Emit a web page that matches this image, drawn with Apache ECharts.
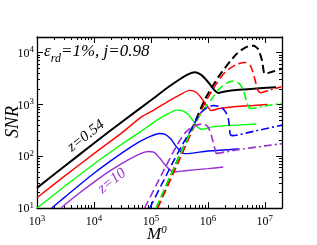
<!DOCTYPE html>
<html>
<head>
<meta charset="utf-8">
<script src="https://cdn.jsdelivr.net/npm/echarts@6/dist/echarts.min.js"></script>
<style>
html,body{margin:0;padding:0;background:#fff;}
#chart{width:317px;height:245px;}
</style>
</head>
<body>
<div id="chart"></div>
<script>
// ---- data (M^0, SNR) ----
const blackSolidM = [1000, 3162, 10000, 31620, 100000, 200000, 316200, 447000, 589000, 741000, 891000, 1120000, 1320000, 1510000, 2000000, 3162000, 7940000, 15800000];
const blackSolidS = [24.5, 66, 178, 468, 1202, 2138, 3020, 3800, 4170, 3800, 3160, 2340, 1860, 1660, 1780, 1905, 2040, 2140];

const redSolidM = [1000, 3162, 10000, 31620, 64570, 100000, 200000, 316200, 479000, 631000, 794000, 1000000, 1150000, 1580000, 3162000, 6310000, 11200000];
const redSolidS = [15.8, 42.7, 112, 288, 550, 724, 1148, 1514, 1862, 1698, 1259, 891, 759, 832, 912, 955, 1000];

const greenSolidM = [1000, 3162, 10000, 31620, 64570, 126000, 200000, 282000, 355000, 447000, 562000, 661000, 794000, 1260000, 3162000, 7080000];
const greenSolidS = [10, 26.9, 70.8, 174, 295, 490, 660, 776, 760, 646, 470, 362, 331, 372, 398, 417];

const blueSolidM = [1820, 3162, 10000, 31620, 63100, 100000, 141000, 178000, 224000, 282000, 355000, 398000, 1000000, 3550000];
const blueSolidS = [10, 16.6, 46.8, 117, 191, 245, 275, 263, 214, 151, 115, 112, 126, 138];

const purpleSolidM = [2630, 5012, 10000, 20000, 39800, 63100, 89100, 112000, 141000, 178000, 224000, 263000, 398000, 1000000, 1860000];
const purpleSolidS = [10, 17.8, 31.6, 53.7, 85.1, 110, 123, 120, 93.3, 67.6, 52.5, 50.1, 52.5, 57.5, 61.7];

const blackDashM = [126000, 316200, 562000, 912000, 1580000, 3162000, 5010000, 6310000, 7590000, 8910000, 10000000, 12600000, 20000000];
const blackDashS = [10, 100, 398, 1318, 3548, 9333, 13180, 13490, 11750, 7079, 3890, 4169, 4898];

const redDashM = [132000, 316200, 562000, 912000, 1410000, 2000000, 3162000, 4470000, 5620000, 6610000, 7590000, 8320000];
const redDashS = [10, 85, 355, 1122, 2512, 4169, 5888, 6457, 5495, 3162, 1862, 1660];
const redTailM = [8320000, 12600000, 19500000];
const redTailS = [1660, 1905, 2188];

const greenDashM = [123000, 316200, 562000, 813000, 1175000, 1580000, 2140000, 2750000, 3550000, 4170000, 4790000, 5250000];
const greenDashS = [10, 100, 380, 759, 1288, 1995, 2570, 2818, 2512, 1905, 1122, 851];
const greenTailM = [5250000, 5750000, 10000000, 20000000];
const greenTailS = [851, 832, 933, 1047];

const blueDashM = [95500, 200000, 355000, 562000, 724000, 1000000, 1260000, 1660000, 2000000, 2290000, 2450000];
const blueDashS = [10, 50.1, 166, 398, 661, 891, 955, 891, 741, 525, 262];
const blueTailM = [2450000, 2690000, 6310000, 20000000];
const blueTailS = [262, 250, 302, 398];

const purpleDashM = [77600, 158000, 282000, 398000, 562000, 794000, 1000000, 1150000, 1320000, 1410000];
const purpleDashS = [10, 46.8, 158, 282, 380, 417, 372, 251, 141, 112];
const purpleTailM = [1410000, 3162000, 10000000, 20000000];
const purpleTailS = [112, 132, 158, 174];

const xMinorTicks = [2000,3000,4000,5000,6000,7000,8000,9000,20000,30000,40000,50000,60000,70000,80000,90000,200000,300000,400000,500000,600000,700000,800000,900000,2000000,3000000,4000000,5000000,6000000,7000000,8000000,9000000];
const yMinorTicks = [20,30,40,50,60,70,80,90,200,300,400,500,600,700,800,900,2000,3000,4000,5000,6000,7000,8000,9000];

const titleText = '{a|\u03b5}{s|rd}{a|=1%, j=0.98}';
const label1 = 'z=0.54';
const label2 = 'z=10';

// ---- chart ----
const X_MIN = 1000, X_MAX = 20000000, Y_MIN = 10, Y_MAX = 20000;
const SERIF = '"Liberation Serif", "DejaVu Serif", serif';
const COL = {black:'#000000', red:'#ff0000', green:'#00ff00', blue:'#0000ff', purple:'#9932cc'};
function pairs(ms, ss){ return ms.map((m,i)=>[m, ss[i]]); }
function line(ms, ss, color, type, width){
  return {type:'line', data:pairs(ms, ss), showSymbol:false, symbol:'none', smooth:0.25,
    lineStyle:{color:color, width:width, type:type}, xAxisIndex:0, yAxisIndex:0, z:3, animation:false};
}
function isPow(v){ const l = Math.log10(v); return Math.abs(l - Math.round(l)) < 0.01; }
const labelFmt = v => isPow(v) ? '{b|10}{e|' + Math.round(Math.log10(v)) + '}' : '';
const rich = {
  b:{fontFamily:SERIF, fontSize:12, color:'#000', lineHeight:14, verticalAlign:'bottom'},
  e:{fontFamily:SERIF, fontSize:9, color:'#000', lineHeight:6, verticalAlign:'top'}
};
const axLine = {show:true, lineStyle:{color:'#000', width:1.3}};
function xAx(pos, showLabel){
  return {type:'log', logBase:10, min:X_MIN, max:X_MAX, position:pos, axisLine:axLine,
    axisTick:{show:true, inside:true, length:6, lineStyle:{color:'#000', width:1}},
    axisLabel:{show:showLabel, formatter:labelFmt, rich:rich, margin:6, showMaxLabel:false},
    splitLine:{show:false}};
}
function yAx(pos, showLabel){
  return {type:'log', logBase:10, min:Y_MIN, max:Y_MAX, position:pos, axisLine:axLine,
    axisTick:{show:true, inside:true, length:6, lineStyle:{color:'#000', width:1}},
    axisLabel:{show:showLabel, formatter:labelFmt, rich:rich, margin:3, showMaxLabel:false},
    splitLine:{show:false}};
}
// minor tick overlays: plain value axes spanning the same decades (exponent space)
function xMinor(pos){
  return {type:'value', min:Math.log10(X_MIN), max:Math.log10(X_MAX), position:pos, axisLine:{show:false},
    axisTick:{show:true, inside:true, length:3, customValues:xMinorTicks.map(Math.log10), lineStyle:{color:'#000', width:1}},
    axisLabel:{show:false}, splitLine:{show:false}};
}
function yMinor(pos){
  return {type:'value', min:Math.log10(Y_MIN), max:Math.log10(Y_MAX), position:pos, axisLine:{show:false},
    axisTick:{show:true, inside:true, length:3, customValues:yMinorTicks.map(Math.log10), lineStyle:{color:'#000', width:1}},
    axisLabel:{show:false}, splitLine:{show:false}};
}

const chart = echarts.init(document.getElementById('chart'), null, {renderer:'canvas'});
chart.setOption({
  animation:false,
  backgroundColor:'#fff',
  grid:{left:37, top:37, right:35, bottom:37, containLabel:false},
  xAxis:[xAx('bottom', true), xAx('top', false), xMinor('bottom'), xMinor('top')],
  yAxis:[yAx('left', true), yAx('right', false), yMinor('left'), yMinor('right')],
  series:[
    line(blackSolidM, blackSolidS, COL.black, 'solid', 2),
    line(redSolidM, redSolidS, COL.red, 'solid', 1.4),
    line(greenSolidM, greenSolidS, COL.green, 'solid', 1.4),
    line(blueSolidM, blueSolidS, COL.blue, 'solid', 1.4),
    line(purpleSolidM, purpleSolidS, COL.purple, 'solid', 1.4),
    line(blackDashM, blackDashS, COL.black, [8,4], 2),
    line(redDashM, redDashS, COL.red, [8,4], 1.6),
    line(redTailM, redTailS, COL.red, [8,3,2,3], 1.6),
    line(greenDashM, greenDashS, COL.green, [8,4], 1.6),
    line(greenTailM, greenTailS, COL.green, [8,3,2,3], 1.6),
    line(blueDashM, blueDashS, COL.blue, [8,4], 1.6),
    line(blueTailM, blueTailS, COL.blue, [8,3,2,3], 1.6),
    line(purpleDashM, purpleDashS, COL.purple, [8,4], 1.6),
    line(purpleTailM, purpleTailS, COL.purple, [8,3,2,3], 1.6)
  ],
  graphic:[
    {type:'text', left:44, top:43, z:10, style:{text:titleText, fill:'#000',
      rich:{a:{fontFamily:SERIF, fontStyle:'italic', fontSize:17, lineHeight:20, verticalAlign:'top'},
            s:{fontFamily:SERIF, fontStyle:'italic', fontSize:12, padding:[10,0,0,0], verticalAlign:'top'}}}},
    {type:'text', x:13, y:122, rotation:Math.PI/2, z:10, style:{text:'SNR', fill:'#000',
      font:'italic 18px ' + SERIF, align:'center', verticalAlign:'middle'}},
    {type:'text', left:147, top:225, z:10, style:{text:'{m|M}{z|0}', fill:'#000',
      rich:{m:{fontFamily:SERIF, fontStyle:'italic', fontSize:17, lineHeight:18, verticalAlign:'bottom'},
            z:{fontFamily:SERIF, fontStyle:'italic', fontSize:11, lineHeight:9, verticalAlign:'top'}}}},
    {type:'text', x:86, y:136, rotation:38*Math.PI/180, z:10, style:{text:label1, fill:'#000',
      font:'italic 15px ' + SERIF, align:'center', verticalAlign:'middle'}},
    {type:'text', x:112, y:181, rotation:38*Math.PI/180, z:10, style:{text:label2, fill:COL.purple,
      font:'italic 15px ' + SERIF, align:'center', verticalAlign:'middle'}}
  ]
});
</script>
</body>
</html>
